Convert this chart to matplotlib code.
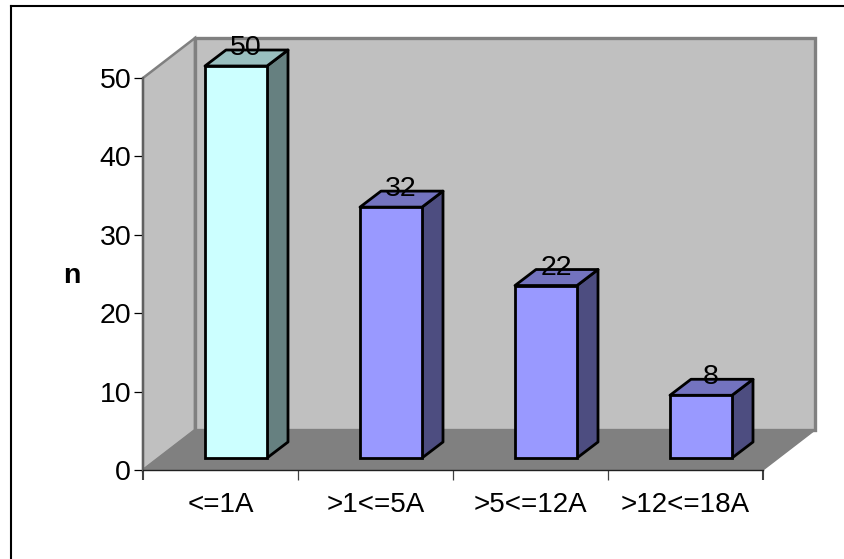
import matplotlib
matplotlib.use('Agg')
import matplotlib.pyplot as plt
from matplotlib.lines import Line2D
from matplotlib.patches import Polygon

plt.rcParams['font.family'] = ['Liberation Sans', 'DejaVu Sans']

categories = ['<=1A', '>1<=5A', '>5<=12A', '>12<=18A']
values = [50, 32, 22, 8]
y_ticks = [0, 10, 20, 30, 40, 50]

front_colors = ['#CCFFFF', '#9999FF', '#9999FF', '#9999FF']
top_colors = ['#99BFBF', '#7373BF', '#7373BF', '#7373BF']
side_colors = ['#668080', '#4D4D80', '#4D4D80', '#4D4D80']

W, H = 844, 559
fig = plt.figure(figsize=(W / 100, H / 100), dpi=100)

# front plane of the 3d box
left, right, y0, y50 = 143, 763, 470, 78
ax = fig.add_axes([left / W, 1 - y0 / H, (right - left) / W, (y0 - y50) / H])
ax.set_xlim(0, 4)
ax.set_ylim(0, 50)
ax.patch.set_visible(False)

# pixel to data scale
sx = (right - left) / 4
sy = (y0 - y50) / 50

# box depth
dx = 52 / sx
dy = 40 / sy

# left wall, back wall, floor
ax.add_patch(Polygon([(0, 0), (dx, dy), (dx, 50 + dy), (0, 50)], closed=True, fc='#C0C0C0',
                     ec='#808080', lw=1.8, clip_on=False, zorder=1))
ax.add_patch(Polygon([(dx, dy), (4 + dx, dy), (4 + dx, 50 + dy), (dx, 50 + dy)], closed=True, fc='#C0C0C0',
                     ec='#808080', lw=2.4, clip_on=False, zorder=1))
ax.add_patch(Polygon([(0, 0), (4, 0), (4 + dx, dy), (dx, dy)], closed=True, fc='#808080',
                     ec='#808080', lw=1, clip_on=False, zorder=1.5))

# bars sit in the middle of the depth
bar_w = 0.4
off_x = 15.5 / sx
off_y = 12 / sy
bar_dx = 21 / sx
bar_dy = 16 / sy
edge = 2.0

for i, v in enumerate(values):
    c = i + 0.5 + off_x
    x1 = c - bar_w / 2
    x2 = c + bar_w / 2
    y1 = off_y
    y2 = off_y + v
    ax.add_patch(Polygon([(x2, y1), (x2 + bar_dx, y1 + bar_dy), (x2 + bar_dx, y2 + bar_dy), (x2, y2)],
                         closed=True, fc=side_colors[i], ec='black', lw=edge, joinstyle='round',
                         clip_on=False, zorder=3))
    ax.add_patch(Polygon([(x1, y2), (x2, y2), (x2 + bar_dx, y2 + bar_dy), (x1 + bar_dx, y2 + bar_dy)],
                         closed=True, fc=top_colors[i], ec='black', lw=edge, joinstyle='round',
                         clip_on=False, zorder=3))
    ax.bar(c, v, bar_w, bottom=off_y, color=front_colors[i], edgecolor='black', linewidth=edge,
           clip_on=False, zorder=4)
    ax.text(c + 10 / sx, y2 + 18 / sy, str(v), ha='center', va='center', fontsize=20.5,
            color='black', zorder=5)

# axes
for s in ['top', 'right']:
    ax.spines[s].set_visible(False)
ax.spines['left'].set_color('#606060')
ax.spines['left'].set_linewidth(1.6)
ax.spines['bottom'].set_color('#202020')
ax.spines['bottom'].set_linewidth(1)
ax.spines['left'].set_zorder(2)
ax.spines['bottom'].set_zorder(2)

ax.set_yticks(y_ticks)
ax.tick_params(axis='y', length=6.5, width=0.9, color='black', labelsize=20.5, pad=2)
ax.set_xticks([0, 1, 2, 3, 4])
ax.set_xticklabels([])
ax.tick_params(axis='x', which='major', length=7, width=0.9, color='#404040')
ax.set_xticks([0.5, 1.5, 2.5, 3.5], minor=True)
ax.set_xticklabels(categories, minor=True)
ax.tick_params(axis='x', which='minor', length=0, labelsize=20, pad=16)

# the outer x ticks carry on the wall colour
xticks = ax.xaxis.get_major_ticks()
for t in [xticks[0], xticks[-1]]:
    t.tick1line.set_color('#707070')
    t.tick1line.set_markeredgewidth(1.5)

fig.text(72 / W, 1 - 276 / H, 'n', fontsize=20.5, fontweight='bold', ha='center', va='center')

# chart area border, only top and left show
fig.add_artist(Line2D([10.5 / W, 10.5 / W], [0, 1 - 5.5 / H], color='black', lw=1.5))
fig.add_artist(Line2D([10.5 / W, 843 / W], [1 - 5.5 / H, 1 - 5.5 / H], color='black', lw=1.5))

fig.savefig('out.png', dpi=100)
